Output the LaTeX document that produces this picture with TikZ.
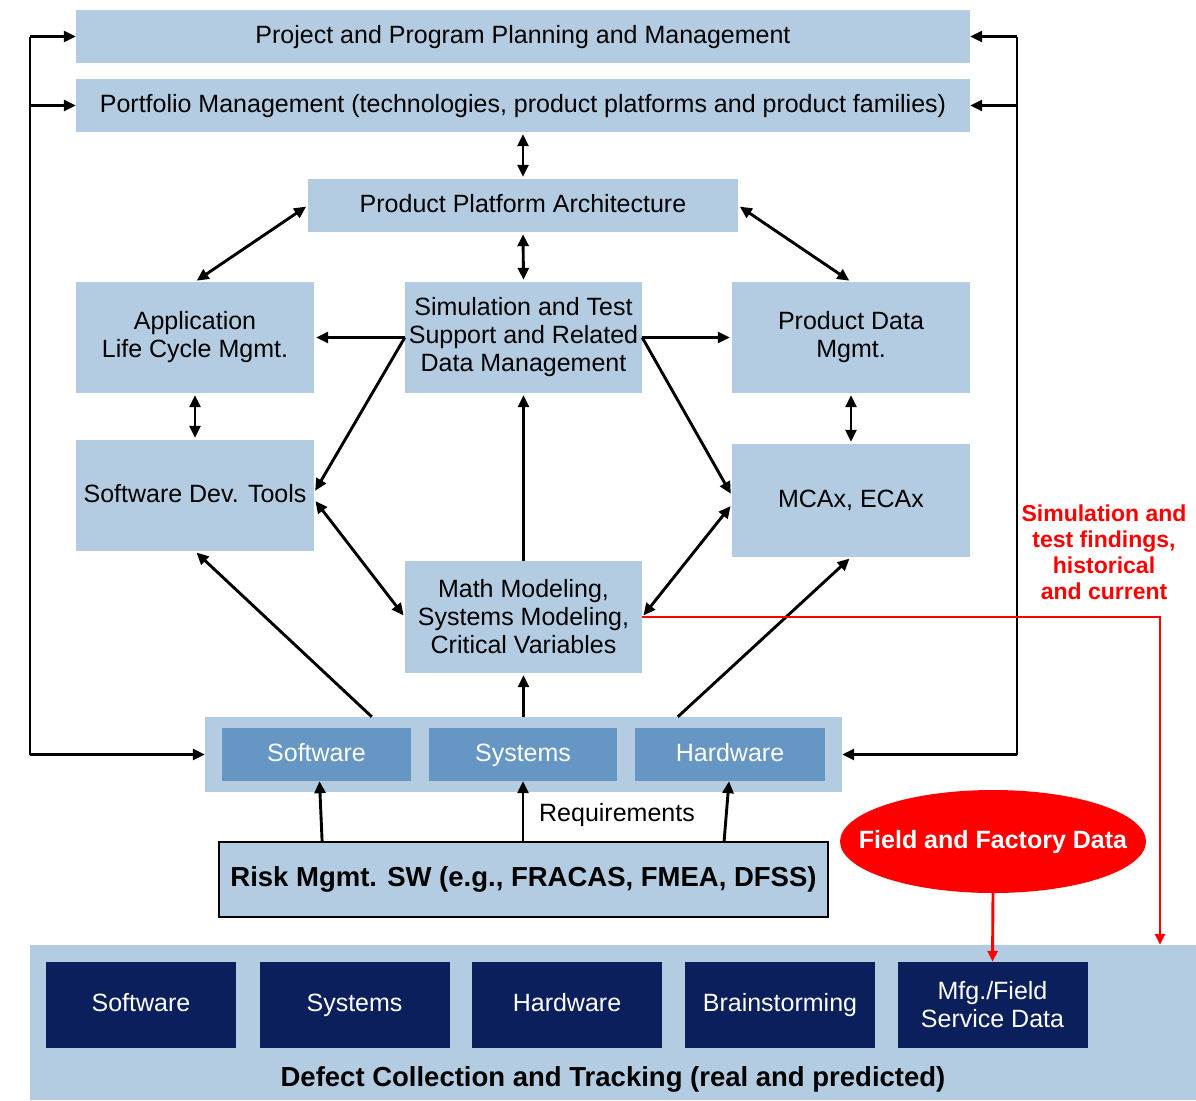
\documentclass[tikz,border=0pt]{standalone}
\usepackage{fontspec}
\setmainfont{Liberation Sans}
\usetikzlibrary{arrows.meta,shapes.geometric,calc}
\definecolor{paleblue}{HTML}{B3CCE2}
\definecolor{midblue}{HTML}{6596C4}
\definecolor{navy}{HTML}{0B1F5C}
\definecolor{alertred}{HTML}{FF0000}

\begin{document}
\begin{tikzpicture}[x=1pt,y=-1pt,
  txt/.style={font=\fontsize{25}{28}\selectfont},
  oneline/.style={text height=18pt, text depth=5pt},
  box/.style={txt, fill=paleblue, draw=none, align=center, inner sep=2pt},
  inner/.style={txt, oneline, fill=midblue, text=white, align=center, inner sep=2pt,
    minimum width=189pt, minimum height=53pt},
  dark/.style={txt, fill=navy, text=white, align=center, inner sep=2pt,
    minimum width=190pt, minimum height=86pt},
  link/.style={line width=2.9pt, draw=black},
  one/.style={link, -{Triangle[length=12pt,width=11pt]}, shorten >=2pt},
  two/.style={link, {Triangle[length=12pt,width=11pt]}-{Triangle[length=12pt,width=11pt]},
    shorten >=2pt, shorten <=2pt},
  redline/.style={line width=2.9pt, draw=alertred},
  redarrow/.style={redline, -{Triangle[length=11pt,width=10pt]}},
]
\useasboundingbox (0,0) rectangle (1196,1100);

% management layer
\node[box, oneline, minimum width=894pt, minimum height=53pt] (ppm) at (523,36.5)
  {Project and Program Planning and Management};
\node[box, oneline, minimum width=894pt, minimum height=53pt] (port) at (523,105.5)
  {Portfolio Management (technologies, product platforms and product families)};
\node[box, oneline, minimum width=430pt, minimum height=53pt] (ppa) at (523,205.5)
  {Product Platform Architecture};

% tool boxes
\node[box, minimum width=238pt, minimum height=111pt] (app) at (195,337.5)
  {Application\\Life Cycle Mgmt.};
\node[box, minimum width=237pt, minimum height=111pt] (sim) at (523.5,337.5)
  {Simulation and Test\\Support and Related\\Data Management};
\node[box, minimum width=238pt, minimum height=111pt] (pdm) at (851,337.5)
  {Product Data\\Mgmt.};
\node[box, oneline, minimum width=238pt, minimum height=111pt] (sdt) at (195,495.5)
  {Software Dev. Tools};
\node[box, oneline, minimum width=238pt, minimum height=113pt] (mca) at (851,500.5)
  {MCAx, ECAx};
\node[box, minimum width=237pt, minimum height=112pt] (math) at (523.5,617)
  {Math Modeling,\\Systems Modeling,\\Critical Variables};

% requirement domains
\node[box, minimum width=637pt, minimum height=75pt] (grp) at (523.5,754.5) {};
\node[inner] (rsw) at (316.5,754.5) {Software};
\node[inner, minimum width=188pt] (rsy) at (523,754.5) {Systems};
\node[inner, minimum width=190pt] (rhw) at (730,754.5) {Hardware};

\node[box, oneline, draw=black, line width=1.8pt, minimum width=609pt, minimum height=75pt,
  font=\bfseries\fontsize{27.5}{30}\selectfont] (risk) at (523.5,879.5)
  {Risk Mgmt. SW (e.g., FRACAS, FMEA, DFSS)};
\node[txt, oneline] (req) at (617,815) {Requirements};

% field data
\node[ellipse, fill=alertred, minimum width=306pt, minimum height=103pt, inner sep=0pt]
  (field) at (993,841.5) {};
\node[text=white, oneline, font=\bfseries\fontsize{25}{28}\selectfont] (fieldtext)
  at (field.center) {Field and Factory Data};
\node[align=center, text=alertred, font=\bfseries\fontsize{23}{26}\selectfont] (note)
  at (1104,552) {Simulation and\\test findings,\\historical\\and current};

% defect tracking
\node[box, minimum width=1166pt, minimum height=155pt] (defect) at (613,1022.5) {};
\node[txt, oneline, font=\bfseries\fontsize{27.5}{30}\selectfont] (deflabel) at (613,1080)
  {Defect Collection and Tracking (real and predicted)};
\node[dark, oneline] (dsw) at (141,1005) {Software};
\node[dark, oneline] (dsy) at (354.5,1005) {Systems};
\node[dark, oneline] (dhw) at (567,1005) {Hardware};
\node[dark, oneline] (dbs) at (780,1005) {Brainstorming};
\node[dark] (dmf) at (992.5,1005) {Mfg./Field\\Service Data};

% feedback loops on both sides
\coordinate (lt) at (30,36.5);
\coordinate (lb) at (30,754.5);
\coordinate (rt) at (1017,36.5);
\coordinate (rb) at (1017,754.5);
\draw[link] (lt) -- (lb);
\draw[link] (rt) -- (rb);
\draw[one, shorten >=0pt] (lt) -- (ppm.west);
\draw[one, shorten >=0pt] (lt |- port.west) -- (port.west);
\draw[one, shorten >=0pt] (lb) -- (grp.west);
\draw[one, shorten >=0pt] (rt) -- (ppm.east);
\draw[one, shorten >=0pt] (rt |- port.east) -- (port.east);
\draw[one, shorten >=0pt] (rb) -- (grp.east);

% links between layers
\draw[two] (port.south) -- (ppa.north);
\draw[two] (ppa.south) -- (sim.north);
\draw[two] (ppa.west) -- (app.north);
\draw[two] (ppa.east) -- (pdm.north);
\draw[two] (app.south) -- (sdt.north);
\draw[two] (pdm.south) -- (mca.north);

\draw[one] (sim.west) -- (app.east);
\draw[one] (sim.west) -- ([yshift=3pt]sdt.east);
\draw[one] (sim.east) -- (pdm.east -| pdm.west);
\draw[one] (sim.east) -- ([yshift=5pt]mca.west);
\draw[two] ([yshift=-4pt]sdt.east) -- (math.west);
\draw[two] (math.east) -- ([yshift=-4pt]mca.west);
\draw[one] (math.north) -- (sim.south);

\draw[one] ($(grp.north west)+(167,0)$) -- (sdt.south);
\draw[one] (grp.north -| math.south) -- (math.south);
\draw[one] ($(grp.north west)+(473,0)$) -- (mca.south);

\draw[one, shorten >=0pt] ($(risk.north west)+(104,0)$) -- ($(rsw.south)+(3,0)$);
\draw[one, shorten >=0pt] (risk.north -| rsy.south) -- (rsy.south);
\draw[one, shorten >=0pt] ($(risk.north west)+(506,0)$) -- ($(rhw.south)+(-1,0)$);

% red data flows
\coordinate (rc) at (1160,617);
\draw[redarrow] (math.east) -- (rc) -- (rc |- defect.north);
\draw[redarrow] (field.south) -- (dmf.north);

\end{tikzpicture}
\end{document}
